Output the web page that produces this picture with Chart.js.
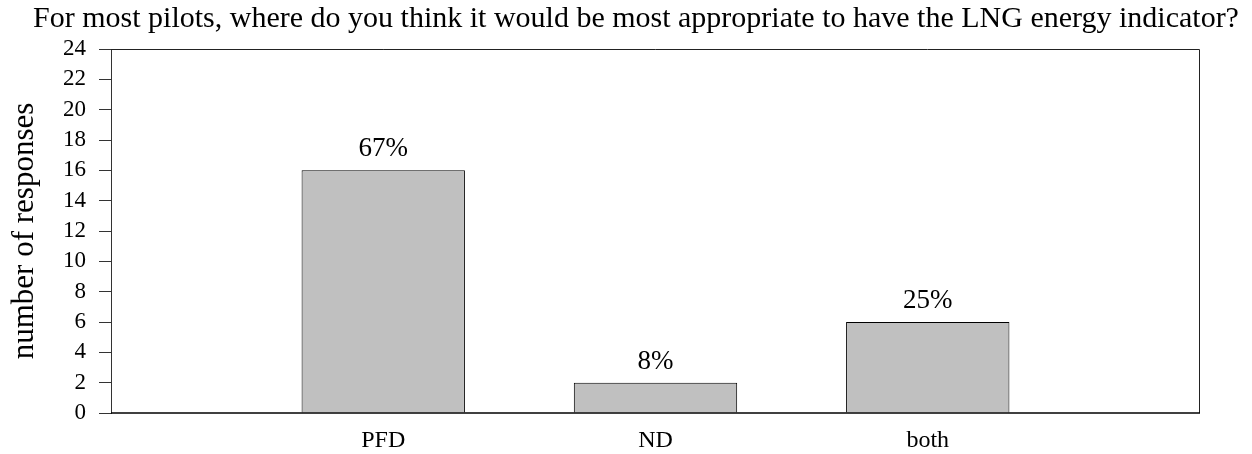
<!DOCTYPE html>
<html>
<head>
<meta charset="utf-8">
<script src="https://cdn.jsdelivr.net/npm/chart.js@4.4.1/dist/chart.umd.min.js"></script>
<style>
  html, body { margin: 0; padding: 0; background: #ffffff; }
  #wrap { width: 1252px; height: 454px; position: relative; }
</style>
</head>
<body>
<div id="wrap"><canvas id="chart" width="1252" height="454"></canvas></div>
<script>
// Survey answers: empty slots at both ends keep the bars spaced across the frame
const categories = ['', 'PFD', 'ND', 'both', ''];
const responses = [null, 16, 2, 6, null];
const yTicks = [0, 2, 4, 6, 8, 10, 12, 14, 16, 18, 20, 22, 24];

const titleText = 'For most pilots, where do you think it would be most appropriate to have the LNG energy indicator?';
const yAxisTitle = 'number of responses';

const SERIF = '"Liberation Serif", "Times New Roman", Times, serif';
const totalResponses = responses.reduce((s, v) => s + (v || 0), 0);

// Heading line across the top, centred slightly right of the plot frame
const headingPlugin = {
  id: 'heading',
  afterDraw(chart) {
    const { ctx } = chart;
    ctx.save();
    ctx.font = '30px ' + SERIF;
    ctx.fillStyle = '#000000';
    ctx.textAlign = 'center';
    ctx.textBaseline = 'alphabetic';
    ctx.fillText(titleText, 636, 27);
    ctx.restore();
  }
};

// Closes the plot frame on the top and right, and thickens the base line
const framePlugin = {
  id: 'frame',
  afterDraw(chart) {
    const { ctx, chartArea: a } = chart;
    ctx.save();
    ctx.strokeStyle = '#222222';
    ctx.lineWidth = 1;
    ctx.beginPath();
    ctx.moveTo(a.left, a.top + 0.5);
    ctx.lineTo(a.right - 0.5, a.top + 0.5);
    ctx.lineTo(a.right - 0.5, a.bottom);
    ctx.stroke();
    ctx.strokeStyle = '#000000';
    ctx.lineWidth = 1.5;
    ctx.beginPath();
    ctx.moveTo(a.left, a.bottom);
    ctx.lineTo(a.right, a.bottom);
    ctx.stroke();
    ctx.restore();
  }
};

// Percentage share written above each bar
const shareLabels = {
  id: 'shareLabels',
  afterDatasetsDraw(chart) {
    const { ctx } = chart;
    const meta = chart.getDatasetMeta(0);
    ctx.save();
    ctx.font = '27px ' + SERIF;
    ctx.fillStyle = '#000000';
    ctx.textAlign = 'center';
    ctx.textBaseline = 'alphabetic';
    meta.data.forEach((bar, i) => {
      const v = responses[i];
      if (v === null || v === undefined) return;
      const pct = Math.round(v / totalResponses * 100) + '%';
      ctx.fillText(pct, bar.x, bar.y - 14);
    });
    ctx.restore();
  }
};

new Chart(document.getElementById('chart'), {
  type: 'bar',
  data: {
    labels: categories,
    datasets: [{
      data: responses,
      backgroundColor: '#c0c0c0',
      borderColor: '#000000',
      borderWidth: 1,
      borderSkipped: 'bottom',
      categoryPercentage: 1.0,
      barPercentage: 0.6
    }]
  },
  options: {
    responsive: false,
    animation: false,
    layout: { padding: { left: 0, right: 52, top: 49, bottom: 0 } },
    plugins: {
      legend: { display: false },
      tooltip: { enabled: false },
      title: { display: false }
    },
    scales: {
      x: {
        type: 'category',
        offset: false,
        grid: { display: false, drawTicks: false },
        border: { display: false },
        ticks: {
          autoSkip: false,
          maxRotation: 0,
          minRotation: 0,
          padding: 13,
          color: '#000000',
          font: { family: SERIF, size: 24 }
        },
        afterFit(scale) { scale.height = 41; }
      },
      y: {
        min: 0,
        max: 24,
        afterBuildTicks(scale) { scale.ticks = yTicks.map(v => ({ value: v })); },
        grid: {
          drawOnChartArea: false,
          drawTicks: true,
          tickLength: 12,
          color: '#333333'
        },
        border: { display: true, color: '#333333', width: 1 },
        ticks: {
          autoSkip: false,
          padding: 13,
          color: '#000000',
          font: { family: SERIF, size: 23 }
        },
        title: {
          display: true,
          text: yAxisTitle,
          color: '#000000',
          font: { family: SERIF, size: 31 },
          padding: { top: 6, bottom: 0 }
        },
        afterFit(scale) { scale.width = 111; }
      }
    }
  },
  plugins: [framePlugin, shareLabels, headingPlugin]
});
</script>
</body>
</html>
